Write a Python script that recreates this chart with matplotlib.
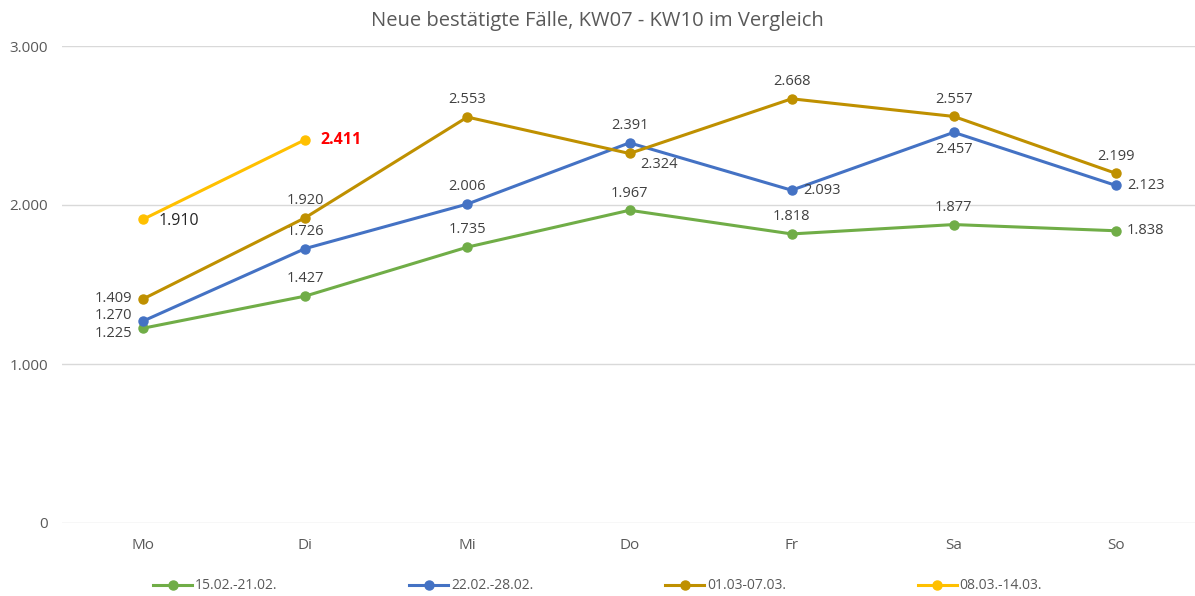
import matplotlib
matplotlib.use("Agg")
import matplotlib.pyplot as plt
from matplotlib.ticker import FuncFormatter

plt.rcParams['font.family'] = ['Open Sans', 'DejaVu Sans']

days = ["Mo", "Di", "Mi", "Do", "Fr", "Sa", "So"]
labels = ["15.02.-21.02.", "22.02.-28.02.", "01.03-07.03.", "08.03.-14.03."]
kw07 = [1225, 1427, 1735, 1967, 1818, 1877, 1838]
kw08 = [1270, 1726, 2006, 2391, 2093, 2457, 2123]
kw09 = [1409, 1920, 2553, 2324, 2668, 2557, 2199]
kw10 = [1910, 2411]
colors = ["#70AD47", "#4472C4", "#BF9000", "#FFC000"]
series = [kw07, kw08, kw09, kw10]

# label placement (dx, dy in points, ha, va)
A = (0, 7, 'center', 'bottom')
B = (0, -7, 'center', 'top')
R = (8, 0, 'left', 'center')
L = (-8, 0, 'right', 'center')
place = [
    [(-8, -4, 'right', 'center'), A, A, A, A, A, R],
    [(-8, 4, 'right', 'center'), A, A, A, R, B, R],
    [L, A, A, (8, -8, 'left', 'center'), A, A, A],
    [(11, -1, 'left', 'center'), (11, 0, 'left', 'center')],
]

def fmt(v):
    return f"{v:,}".replace(",", ".")

fig = plt.figure(figsize=(11.95, 5.96), dpi=100)
ax = fig.add_axes([62/1195, 73/596, 1135/1195, 477/596])
x = list(range(len(days)))
for s, c, lab, pl in zip(series, colors, labels, place):
    xs = x[:len(s)]
    ax.plot(xs, s, color=c, lw=2.2, marker='o', ms=6.5, label=lab, zorder=3)
    for i, v in enumerate(s):
        dx, dy, ha, va = pl[i]
        kw = dict(fontsize=10.5, color='#404040')
        if s is kw10:
            kw['fontsize'] = 11.5
            kw['color'] = '#262626'
            if i == 1:
                kw.update(color='#FF0000', fontweight='bold')
        ax.annotate(fmt(v), (i, v), xytext=(dx, dy), textcoords='offset points',
                    ha=ha, va=va, **kw)

ax.set_xlim(-0.5, 6.5)
ax.set_ylim(0, 3000)
ax.set_yticks([0, 1000, 2000, 3000])
ax.yaxis.set_major_formatter(FuncFormatter(lambda v, p: fmt(int(v))))
ax.set_xticks(x)
ax.set_xticklabels(days)
ax.grid(axis='y', color='#D9D9D9', lw=1)
ax.set_axisbelow(True)
for sp in ax.spines.values():
    sp.set_visible(False)
ax.tick_params(length=0, colors='#595959', labelsize=11)
ax.tick_params(axis='x', pad=11)
ax.tick_params(axis='y', pad=10)

fig.text(0.5, 0.965, "Neue bestätigte Fälle, KW07 - KW10 im Vergleich",
         ha='center', va='center', fontsize=14.5, color='#595959')
fig.legend(loc='center', bbox_to_anchor=(0.5, 0.017), ncol=4,
           frameon=False, fontsize=10, columnspacing=9.5, handlelength=2.8,
           handletextpad=0.2, labelcolor='#595959')
fig.savefig("out.png", dpi=100)
